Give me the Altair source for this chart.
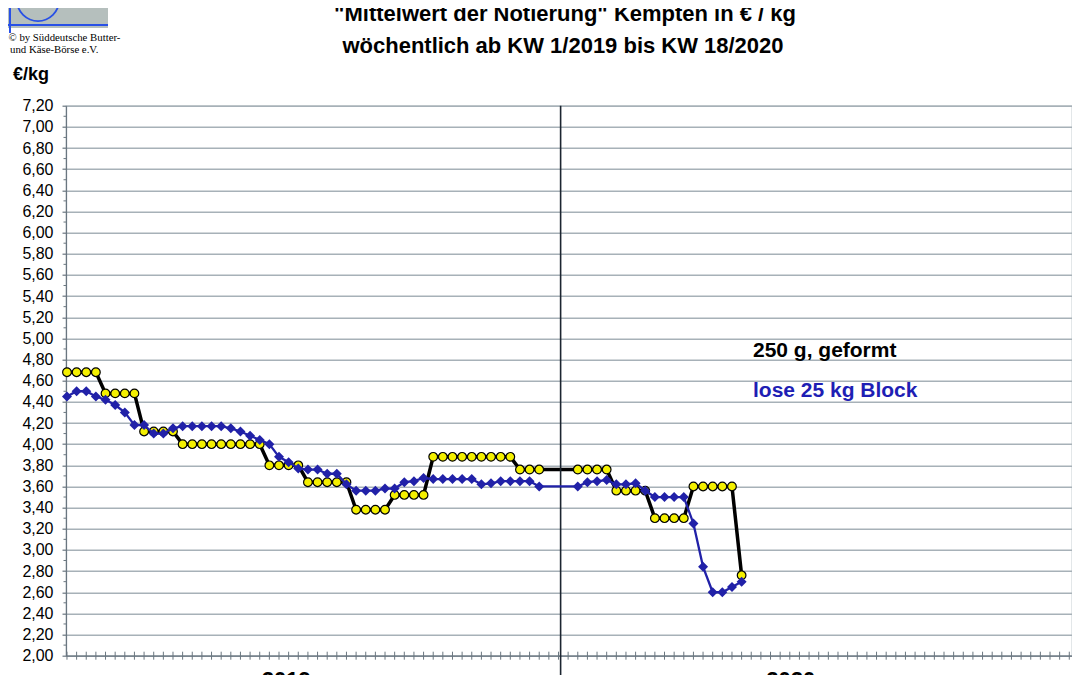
import altair as alt
import pandas as pd

# ---------------- data ----------------
weeks_2019 = list(range(1, 51))
weeks_2020 = list(range(1, 19))

butter_250g_2019 = [4.68, 4.68, 4.68, 4.68, 4.48, 4.48, 4.48, 4.48, 4.12, 4.12,
                    4.12, 4.12, 4.00, 4.00, 4.00, 4.00, 4.00, 4.00, 4.00, 4.00,
                    4.00, 3.80, 3.80, 3.80, 3.80, 3.64, 3.64, 3.64, 3.64, 3.64,
                    3.38, 3.38, 3.38, 3.38, 3.52, 3.52, 3.52, 3.52, 3.88, 3.88,
                    3.88, 3.88, 3.88, 3.88, 3.88, 3.88, 3.88, 3.76, 3.76, 3.76]
butter_250g_2020 = [3.76, 3.76, 3.76, 3.76, 3.56, 3.56, 3.56, 3.56, 3.30, 3.30,
                    3.30, 3.30, 3.60, 3.60, 3.60, 3.60, 3.60, 2.76]

block_25kg_2019 = [4.45, 4.50, 4.50, 4.45, 4.42, 4.37, 4.30, 4.18, 4.18, 4.10,
                   4.10, 4.15, 4.17, 4.17, 4.17, 4.17, 4.17, 4.15, 4.12, 4.08,
                   4.04, 4.00, 3.88, 3.83, 3.77, 3.76, 3.76, 3.72, 3.72, 3.62,
                   3.56, 3.56, 3.56, 3.58, 3.58, 3.64, 3.65, 3.68, 3.67, 3.67,
                   3.67, 3.67, 3.67, 3.62, 3.63, 3.65, 3.65, 3.65, 3.65, 3.60]
block_25kg_2020 = [3.60, 3.64, 3.65, 3.66, 3.62, 3.62, 3.63, 3.56, 3.50, 3.50,
                   3.50, 3.50, 3.25, 2.84, 2.60, 2.60, 2.65, 2.70]

slot_offset_2020 = 53          # KW 1/2020 sits on axis slot 54
year_boundary_slot = [52.22]
year_labels = ["2019", "2020"]
year_label_slots = [23.75, 76.1]
x_tick_slots = list(range(1, 106))

y_tick_values = [2.00, 2.20, 2.40, 2.60, 2.80, 3.00, 3.20, 3.40, 3.60, 3.80,
                 4.00, 4.20, 4.40, 4.60, 4.80, 5.00, 5.20, 5.40, 5.60, 5.80,
                 6.00, 6.20, 6.40, 6.60, 6.80, 7.00, 7.20]
y_minor_values = [2.10, 2.30, 2.50, 2.70, 2.90, 3.10, 3.30, 3.50, 3.70, 3.90,
                  4.10, 4.30, 4.50, 4.70, 4.90, 5.10, 5.30, 5.50, 5.70, 5.90,
                  6.10, 6.30, 6.50, 6.70, 6.90, 7.10]

title_text = '"Mittelwert der Notierung" Kempten in € / kg'
subtitle_text = "wöchentlich ab KW 1/2019 bis KW 18/2020"
series_250 = "250 g, geformt"
series_block = "lose 25 kg Block"
unit_text = "€/kg"
logo_line1 = "© by Süddeutsche Butter-"
logo_line2 = "und Käse-Börse e.V."

# ---------------- tables ----------------
def series_frame(w19, v19, w20, v20):
    slots = list(w19) + [w + slot_offset_2020 for w in w20]
    return pd.DataFrame({"slot": slots, "value": list(v19) + list(v20)})

df_250 = series_frame(weeks_2019, butter_250g_2019, weeks_2020, butter_250g_2020)
df_block = series_frame(weeks_2019, block_25kg_2019, weeks_2020, block_25kg_2020)

W, H = 1006, 550
FONT = "Liberation Sans"
BLUE = "#2121a8"
AXIS_C = "#6a7680"
GRID_C = "#a7b1b8"

x_scale = alt.Scale(domain=[0.9, 105.28], nice=False, zero=False)
y_scale = alt.Scale(domain=[2.0, 7.2], nice=False, zero=False)

x_axis = alt.Axis(labels=False, ticks=False, grid=False, title=None,
                  domainColor=AXIS_C, domainWidth=1.2)
y_axis = alt.Axis(values=y_tick_values,
                  labelExpr="replace(format(datum.value, '.2f'), '.', ',')",
                  tickSize=4, tickColor=AXIS_C, tickWidth=1.2,
                  grid=True, gridColor=GRID_C, gridWidth=1.6,
                  domainColor=AXIS_C, domainWidth=1.2,
                  labelFontSize=16, labelFont=FONT, labelColor="black",
                  labelPadding=9, title=None)


def X():
    return alt.X("slot:Q", scale=x_scale, axis=x_axis)


def Y():
    return alt.Y("value:Q", scale=y_scale, axis=y_axis)


def label(text, x, y, size, color="black", align="left", font=FONT, weight="bold"):
    return alt.Chart(pd.DataFrame({"t": [text]})).mark_text(
        align=align, baseline="alphabetic", fontSize=size, font=font,
        fontWeight=weight, color=color
    ).encode(text="t:N", x=alt.value(x), y=alt.value(y))


one = pd.DataFrame({"k": [0]})

logo_rect = alt.Chart(one).mark_rect(color="#b5bfbd").encode(
    x=alt.value(-66), x2=alt.value(42), y=alt.value(-106), y2=alt.value(-77.7))
logo_h = alt.Chart(one).mark_rule(color="#2850e6", strokeWidth=2).encode(
    x=alt.value(-66), x2=alt.value(42), y=alt.value(-80.7))
logo_v = alt.Chart(one).mark_rule(color="#2850e6", strokeWidth=2).encode(
    x=alt.value(-56), y=alt.value(-106), y2=alt.value(-72.7))
logo_arc = alt.Chart(one).mark_arc(
    theta=1.5708, theta2=4.7124, radius=22, radius2=20.2, color="#2850e6"
).encode(x=alt.value(-28), y=alt.value(-105.7))

minor_ticks = alt.Chart(pd.DataFrame({"value": y_minor_values})).mark_rule(
    color=AXIS_C, strokeWidth=1).encode(y=Y(), x=alt.value(-2.5), x2=alt.value(0))

x_ticks = alt.Chart(pd.DataFrame({"slot": x_tick_slots})).mark_rule(
    color=AXIS_C, strokeWidth=1).encode(x=X(), y=alt.value(H - 4), y2=alt.value(H + 4))

year_line = alt.Chart(pd.DataFrame({"slot": year_boundary_slot})).mark_rule(
    color="#1c2530", strokeWidth=1.6).encode(x=X(), y=alt.value(0), y2=alt.value(H + 40))

year_text = alt.Chart(pd.DataFrame({"slot": year_label_slots, "t": year_labels})).mark_text(
    align="center", baseline="alphabetic", fontSize=22, font=FONT, fontWeight="bold",
    color="black").encode(x=X(), y=alt.value(581.3), text="t:N")

line_250 = alt.Chart(df_250).mark_line(color="black", strokeWidth=3.5).encode(
    x=X(), y=Y(), order="slot:Q")
pts_250 = alt.Chart(df_250).mark_point(
    shape="circle", filled=True, fill="#f4f000", stroke="black", strokeWidth=1.2,
    size=75, opacity=1, fillOpacity=1).encode(x=X(), y=Y())
line_block = alt.Chart(df_block).mark_line(color=BLUE, strokeWidth=2.3).encode(
    x=X(), y=Y(), order="slot:Q")
pts_block = alt.Chart(df_block).mark_point(
    shape="diamond", filled=True, color=BLUE, size=100, opacity=1).encode(x=X(), y=Y())

texts = [
    label(title_text, 499, -84.2, 22, align="center"),
    label(subtitle_text, 497, -52.7, 22, align="center"),
    label(unit_text, -53, -25.7, 18),
    label(series_250, 687, 251.3, 21),
    label(series_block, 687, 291, 21, color="#1e1eb4"),
    label(logo_line1, -57.5, -64.7, 10.8, font="Liberation Serif", weight="normal"),
    label(logo_line2, -56, -52.7, 10.8, font="Liberation Serif", weight="normal"),
]

chart = alt.layer(
    line_250, logo_rect, logo_h, logo_v, logo_arc, minor_ticks, x_ticks, year_line,
    pts_250, line_block, pts_block, year_text, *texts
).properties(
    width=W, height=H,
    autosize=alt.AutoSizeParams(type="none"),
    padding={"left": 58, "top": 97.7, "right": 0, "bottom": 37},
    background="white",
).configure_view(stroke=GRID_C, strokeWidth=1.2)

chart.save("out.html", embed_options={"renderer": "svg", "actions": False})
